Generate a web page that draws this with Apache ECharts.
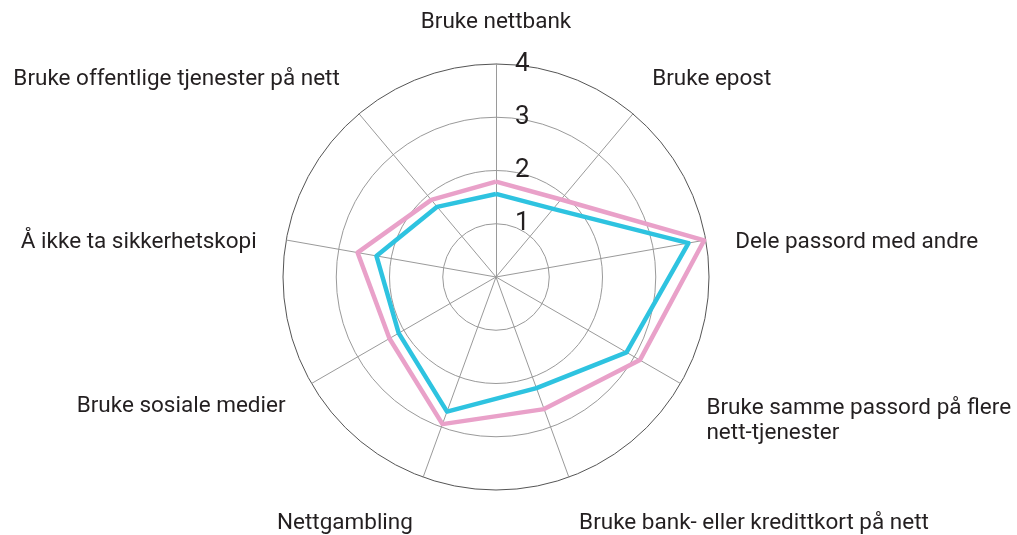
<!DOCTYPE html>
<html>
<head>
<meta charset="utf-8">
<script src="https://cdn.jsdelivr.net/npm/echarts@6/dist/echarts.min.js"></script>
<style>html,body{margin:0;padding:0;background:#fff;}#c{width:1017px;height:535px;}</style>
</head>
<body>
<div id="c"></div>
<script>
// Indicators in ECharts order (counter-clockwise from top)
const categories = [
  'Bruke nettbank',
  'Bruke offentlige tjenester på nett',
  'Å ikke ta sikkerhetskopi',
  'Bruke sosiale medier',
  'Nettgambling',
  'Bruke bank- eller kredittkort på nett',
  'Bruke samme passord på flere\nnett-tjenester',
  'Dele passord med andre',
  'Bruke epost'
];
const pinkValues = [1.79, 1.89, 2.64, 2.31, 2.94, 2.64, 3.12, 3.97, 1.90];
const blueValues = [1.56, 1.72, 2.28, 2.11, 2.69, 2.22, 2.83, 3.67, 1.67];
const maxValue = 4;
const tickLabels = ['', '1', '2', '3', '4'];

// label style keys per indicator (layout only)
const nameStyle = ['n', 'up', 'dn', 'dn', 'dn2', 'dn2', 'sam', 'dn', 'up'];

const chart = echarts.init(document.getElementById('c'), null, {renderer: 'canvas'});
const option = {
  backgroundColor: '#fff',
  animation: false,
  radar: {
    center: [496, 277],
    radius: 213,
    shape: 'circle',
    startAngle: 90,
    splitNumber: 4,
    nameGap: 30,
    indicator: categories.map((c, i) => {
      const ind = {name: c, min: 0, max: maxValue};
      if (i !== 0) ind.axisLabel = {show: false};
      return ind;
    }),
    axisName: {
      color: '#231f20',
      fontFamily: 'Roboto',
      fontSize: 22.5,
      formatter: function (name) {
        const i = categories.indexOf(name);
        const k = nameStyle[i];
        if (k === 'sam') {
          const parts = name.split('\n');
          return '{sp| }\n{l|' + parts[0] + '}\n{l|' + parts[1] + '}';
        }
        return '{' + k + '|' + name + '}';
      },
      rich: {
        n: {},
        l: {lineHeight: 25},
        sp: {lineHeight: 44, fontSize: 1},
        up: {padding: [0, 0, 22, 0]},
        dn: {padding: [16, 0, 0, 0]},
        dn2: {padding: [36, 0, 0, 0]}
      }
    },
    axisLine: {show: true, lineStyle: {color: '#9a9a9a', width: 1}},
    axisTick: {show: false},
    axisLabel: {
      show: true,
      showMinLabel: false,
      color: '#231f20',
      fontFamily: 'Roboto',
      fontSize: 26,
      margin: -19,
      align: 'left',
      padding: [0, 0, 4, 0],
      formatter: function (v) { return tickLabels[Math.round(v)] || ''; }
    },
    splitLine: {
      show: true,
      lineStyle: {color: ['#9a9a9a', '#9a9a9a', '#9a9a9a', '#9a9a9a', '#555555'], width: 1}
    },
    splitArea: {show: false}
  },
  series: [{
    type: 'radar',
    symbol: 'none',
    data: [
      {name: 'Serie A', value: pinkValues, lineStyle: {color: '#e9a1c9', width: 4.5}},
      {name: 'Serie B', value: blueValues, lineStyle: {color: '#2ec3e0', width: 4.5}}
    ]
  }]
};
chart.setOption(option);
</script>
</body>
</html>
